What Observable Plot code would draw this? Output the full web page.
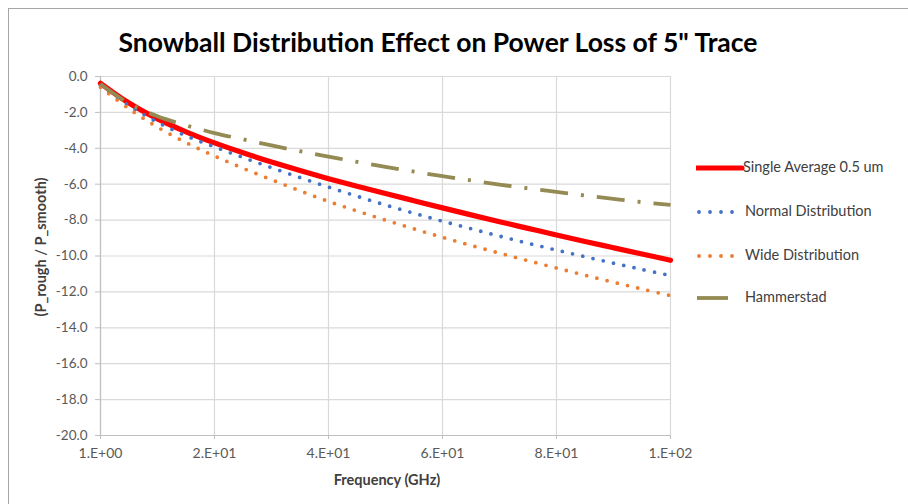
<!DOCTYPE html>
<html>
<head>
<meta charset="utf-8">
<script src="https://cdn.jsdelivr.net/npm/d3@7"></script>
<script src="https://cdn.jsdelivr.net/npm/@observablehq/plot@0.6"></script>
<style>
  html, body { margin: 0; padding: 0; background: #ffffff; }
  #wrap { position: relative; width: 908px; height: 504px; overflow: hidden; font-family: Lato, "Liberation Sans", sans-serif; }
  #frame { position: absolute; left: 8px; top: 8px; width: 940px; height: 540px; border: 1px solid #a6a6a6; box-sizing: border-box; }
  #chart { position: absolute; left: 0; top: 0; }
  #title { position: absolute; left: 0; width: 876px; top: 26px; text-align: center; font-weight: bold; font-size: 26.5px; color: #000; white-space: nowrap; }
  #xlabel { position: absolute; left: 287px; width: 200px; top: 471px; text-align: center; font-weight: bold; font-size: 14.5px; color: #404040; }
  #ylabel { position: absolute; left: 40px; top: 247px; transform: translate(-50%, -50%) rotate(-90deg); font-weight: bold; font-size: 14.5px; color: #404040; white-space: nowrap; }
  #legend { position: absolute; left: 696px; top: 156px; }
  .item { position: absolute; left: 0; height: 24px; white-space: nowrap; font-size: 14.5px; color: #404040; }
  .item svg { position: absolute; left: 0; top: 0; }
  .item span { position: absolute; top: 2px; }
</style>
</head>
<body>
<div id="wrap">
  <div id="frame"></div>
  <div id="chart"></div>
  <div id="title">Snowball Distribution Effect on Power Loss of 5" Trace</div>
  <div id="xlabel">Frequency (GHz)</div>
  <div id="ylabel">(P_rough / P_smooth)</div>
  <div id="legend"></div>
</div>
<script>
// ---- data ----
const freq = [1, 5, 10, 15, 20, 25, 30, 35, 40, 45, 50, 55, 60, 65, 70, 75, 80, 85, 90, 95, 100];
const singleAvg = [-0.38, -1.48, -2.36, -3.08, -3.70, -4.25, -4.76, -5.24, -5.69, -6.11, -6.52, -6.92, -7.32, -7.71, -8.09, -8.46, -8.83, -9.19, -9.54, -9.89, -10.24];
const normalDist = [-0.50, -1.62, -2.55, -3.30, -3.92, -4.51, -5.08, -5.63, -6.16, -6.67, -7.16, -7.62, -8.06, -8.48, -8.89, -9.29, -9.67, -10.04, -10.40, -10.75, -11.09];
const wideDist = [-0.60, -1.80, -2.82, -3.68, -4.43, -5.11, -5.75, -6.37, -6.96, -7.49, -8.00, -8.49, -8.96, -9.41, -9.84, -10.26, -10.67, -11.07, -11.46, -11.84, -12.21];
const hammerstad = [-0.42, -1.50, -2.22, -2.72, -3.15, -3.50, -3.84, -4.16, -4.46, -4.76, -5.04, -5.30, -5.55, -5.79, -6.02, -6.23, -6.43, -6.63, -6.82, -7.00, -7.15];

const seriesNames = ["Single Average 0.5 um", "Normal Distribution", "Wide Distribution", "Hammerstad"];
const xTicks = [1, 20, 40, 60, 80, 100];
const xTickLabels = ["1.E+00", "2.E+01", "4.E+01", "6.E+01", "8.E+01", "1.E+02"];
const yTicks = [0, -2, -4, -6, -8, -10, -12, -14, -16, -18, -20];

// ---- styles ----
const styles = [
  {stroke: "#ff0000", strokeWidth: 5.2, strokeDasharray: null, strokeLinecap: "round"},
  {stroke: "#4472c4", strokeWidth: 3.8, strokeDasharray: "0 10.5", strokeLinecap: "round"},
  {stroke: "#ed7d31", strokeWidth: 3.8, strokeDasharray: "0 10.5", strokeLinecap: "round"},
  {stroke: "#948a54", strokeWidth: 3.8, strokeDasharray: "28 13 3 13", strokeLinecap: "butt"}
];

const allSeries = [singleAvg, normalDist, wideDist, hammerstad];
const tables = allSeries.map((vals, s) => freq.map((f, i) => ({f, v: vals[i], s: seriesNames[s]})));

const lineMarks = tables.map((t, s) => Plot.line(t, {
  x: "f", y: "v",
  stroke: styles[s].stroke,
  strokeWidth: styles[s].strokeWidth,
  strokeDasharray: styles[s].strokeDasharray,
  strokeLinecap: styles[s].strokeLinecap,
  curve: "catmull-rom"
}));

const chart = Plot.plot({
  width: 908,
  height: 504,
  marginLeft: 100,
  marginRight: 238,
  marginTop: 76,
  marginBottom: 69,
  style: {fontFamily: "Lato, 'Liberation Sans', sans-serif", fontSize: "13.5px", color: "#595959", background: "transparent", overflow: "visible"},
  x: {type: "point", domain: freq, padding: 0, round: false},
  y: {type: "linear", domain: [-20, 0]},
  marks: [
    Plot.gridY(yTicks, {stroke: "#d9d9d9", strokeOpacity: 1, strokeWidth: 1.2}),
    Plot.gridX(xTicks, {stroke: "#d9d9d9", strokeOpacity: 1, strokeWidth: 1.2}),
    Plot.ruleX([freq[0]], {stroke: "#bfbfbf", strokeWidth: 1.2}),
    Plot.ruleY([-20], {stroke: "#bfbfbf", strokeWidth: 1.2}),
    Plot.axisY(yTicks, {tickFormat: d => d.toFixed(1), tickSize: 5, tickPadding: 8, stroke: "#bfbfbf", fill: "#595959", label: null}),
    Plot.axisX(xTicks, {tickFormat: d => xTickLabels[xTicks.indexOf(d)], tickSize: 4, tickPadding: 9, stroke: "#bfbfbf", fill: "#595959", fontSize: 14, label: null}),
    ...lineMarks
  ]
});
document.getElementById("chart").appendChild(chart);

// ---- legend ----
const legend = document.getElementById("legend");
const legendTops = [0, 44, 88, 130];
const swatchW = [46, 38, 38, 32];
const textLeft = [47, 49, 49, 49];
seriesNames.forEach((name, s) => {
  const item = document.createElement("div");
  item.className = "item";
  item.style.top = legendTops[s] + "px";
  item.style.width = "210px";
  const st = styles[s];
  const svgNS = "http://www.w3.org/2000/svg";
  const svg = document.createElementNS(svgNS, "svg");
  svg.setAttribute("width", "50");
  svg.setAttribute("height", "24");
  const ln = document.createElementNS(svgNS, "line");
  const x1 = (s === 1 || s === 2) ? 3 : 1;
  ln.setAttribute("x1", x1);
  ln.setAttribute("x2", swatchW[s]);
  ln.setAttribute("y1", 12);
  ln.setAttribute("y2", 12);
  ln.setAttribute("stroke", st.stroke);
  ln.setAttribute("stroke-width", st.strokeWidth);
  if (s === 1 || s === 2) ln.setAttribute("stroke-dasharray", "0 11");
  ln.setAttribute("stroke-linecap", s === 3 ? "butt" : "round");
  svg.appendChild(ln);
  item.appendChild(svg);
  const sp = document.createElement("span");
  sp.style.left = textLeft[s] + "px";
  sp.textContent = name;
  item.appendChild(sp);
  legend.appendChild(item);
});
</script>
</body>
</html>
